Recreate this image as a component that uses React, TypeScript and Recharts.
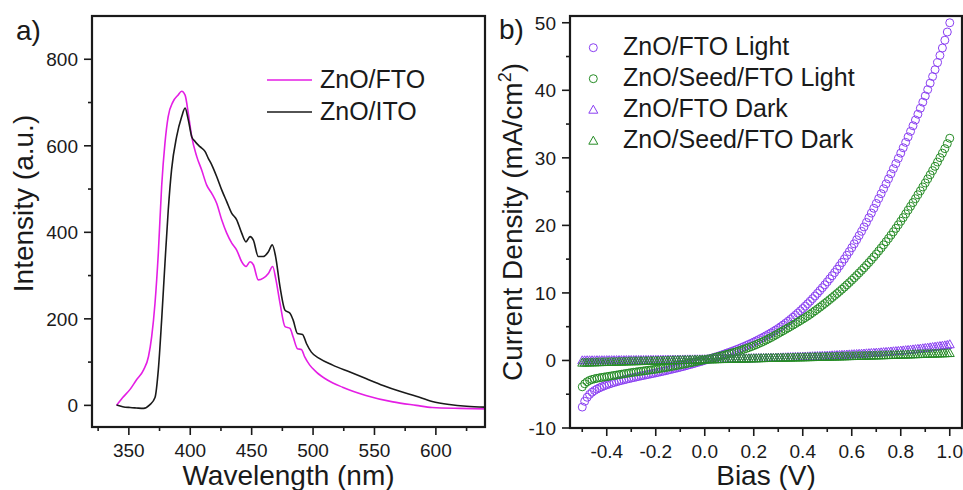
import React from 'react';
import { LineChart, Line, ScatterChart, Scatter, XAxis, YAxis, Legend } from 'recharts';

const FONT = '"Liberation Sans", Arial, Helvetica, sans-serif';
const MAGENTA = '#e41ee4';
const PURPLE = '#8a3ff2';
const GREEN = '#268c26';
const INK = '#1a1a1a';

// ---- panel a: PL spectra ----
const ftoWavelength = [
  340, 345, 351, 356, 362, 366, 368.6, 371.3, 374, 376.7, 379.4, 382, 386, 390, 393, 395.8,
  398.4, 401.2, 405.3, 409.3, 413.4, 417.5, 421.5, 425.6, 429.7, 433.8, 437.8, 441.9, 445.4,
  448.7, 451.4, 455.4, 459.5, 463.6, 467.1, 469.8, 473.1, 477.2, 481.2, 483.8, 487.3, 490.5,
  493.2, 497.3, 502.7, 512, 524, 543, 565, 584, 597, 620, 640,
];
const ftoIntensity = [
  0, 18, 37, 58, 82, 113, 159, 236, 352, 506, 606, 667, 702, 717, 726, 717,
  675, 621, 575, 544, 509, 490, 467, 429, 398, 375, 359, 332, 321,
  332, 325, 290, 294, 305, 321, 290, 236, 182, 178, 158, 131, 129,
  112, 93, 77, 58, 42, 23, 8, 0, -5, -7, -8,
];
const itoWavelength = [
  340, 345, 351, 356, 362, 367, 371.3, 374, 376.7, 379.4, 382.1, 384.8, 388.9, 393, 395.8,
  398.4, 401.2, 403.9, 407.9, 412, 414.7, 417.5, 421.5, 425.6, 429.7, 433.8, 437.8, 441.9,
  445.4, 448.7, 451.4, 455.4, 459.5, 463.6, 466.8, 469.5, 473.1, 477.2, 481.2, 483.8, 487.3,
  491.4, 494.6, 498.6, 505.4, 516, 530, 543, 557, 570, 584, 597, 611, 625, 640,
];
const itoIntensity = [
  1, -3, -5, -6, -7, 1, 18, 82, 197, 328, 452, 545, 621, 667, 687,
  660, 621, 610, 598, 587, 571, 556, 529, 498, 471, 444, 429, 398,
  378, 390, 382, 344, 344, 355, 371, 344, 274, 220, 213, 197, 166,
  164, 143, 123, 108, 93, 77, 62, 46, 33, 21, 9, 2, -2, -4,
];
const wlMajor = [350, 400, 450, 500, 550, 600];
const wlMinor = [325, 375, 425, 475, 525, 575, 625];
const intMajor = [0, 200, 400, 600, 800];
const intMinor = [100, 300, 500, 700];

// ---- panel b: J-V curves ----
const bias = [
  -0.5, -0.49, -0.48, -0.47, -0.46, -0.45, -0.44, -0.43, -0.42, -0.41,
  -0.4, -0.39, -0.38, -0.37, -0.36, -0.35, -0.34, -0.33, -0.32, -0.31,
  -0.3, -0.29, -0.28, -0.27, -0.26, -0.25, -0.24, -0.23, -0.22, -0.21,
  -0.2, -0.19, -0.18, -0.17, -0.16, -0.15, -0.14, -0.13, -0.12, -0.11,
  -0.1, -0.09, -0.08, -0.07, -0.06, -0.05, -0.04, -0.03, -0.02, -0.01,
  0, 0.01, 0.02, 0.03, 0.04, 0.05, 0.06, 0.07, 0.08, 0.09,
  0.1, 0.11, 0.12, 0.13, 0.14, 0.15, 0.16, 0.17, 0.18, 0.19,
  0.2, 0.21, 0.22, 0.23, 0.24, 0.25, 0.26, 0.27, 0.28, 0.29,
  0.3, 0.31, 0.32, 0.33, 0.34, 0.35, 0.36, 0.37, 0.38, 0.39,
  0.4, 0.41, 0.42, 0.43, 0.44, 0.45, 0.46, 0.47, 0.48, 0.49,
  0.5, 0.51, 0.52, 0.53, 0.54, 0.55, 0.56, 0.57, 0.58, 0.59,
  0.6, 0.61, 0.62, 0.63, 0.64, 0.65, 0.66, 0.67, 0.68, 0.69,
  0.7, 0.71, 0.72, 0.73, 0.74, 0.75, 0.76, 0.77, 0.78, 0.79,
  0.8, 0.81, 0.82, 0.83, 0.84, 0.85, 0.86, 0.87, 0.88, 0.89,
  0.9, 0.91, 0.92, 0.93, 0.94, 0.95, 0.96, 0.97, 0.98, 0.99,
  1.0,
];
const ftoLight = [
  -6.9, -6.05, -5.45, -5.02, -4.7, -4.45, -4.24, -4.06, -3.9, -3.75,
  -3.61, -3.49, -3.37, -3.26, -3.15, -3.05, -2.96, -2.87, -2.78, -2.69,
  -2.61, -2.53, -2.45, -2.37, -2.29, -2.22, -2.14, -2.07, -1.99, -1.92,
  -1.84, -1.76, -1.68, -1.6, -1.52, -1.43, -1.35, -1.26, -1.18, -1.09,
  -1.0, -0.91, -0.81, -0.71, -0.61, -0.51, -0.41, -0.3, -0.2, -0.09,
  0.02, 0.13, 0.24, 0.35, 0.47, 0.58, 0.7, 0.82, 0.95, 1.08,
  1.21, 1.34, 1.48, 1.62, 1.76, 1.91, 2.06, 2.22, 2.38, 2.55,
  2.72, 2.9, 3.08, 3.27, 3.46, 3.66, 3.86, 4.07, 4.29, 4.51,
  4.74, 4.99, 5.25, 5.52, 5.8, 6.09, 6.39, 6.7, 7.02, 7.35,
  7.69, 8.04, 8.4, 8.77, 9.15, 9.54, 9.94, 10.35, 10.77, 11.2,
  11.64, 12.09, 12.55, 13.02, 13.5, 14.0, 14.51, 15.03, 15.57, 16.12,
  16.69, 17.27, 17.87, 18.49, 19.12, 19.77, 20.44, 21.12, 21.82, 22.53,
  23.25, 23.97, 24.69, 25.42, 26.15, 26.89, 27.64, 28.39, 29.15, 29.92,
  30.7, 31.49, 32.29, 33.1, 33.92, 34.75, 35.6, 36.46, 37.34, 38.24,
  39.16, 40.1, 41.06, 42.04, 43.05, 44.09, 45.16, 46.26, 47.41, 48.63,
  50.0,
];
const seedLight = [
  -3.9, -3.45, -3.15, -2.95, -2.82, -2.72, -2.64, -2.57, -2.51, -2.45,
  -2.4, -2.34, -2.28, -2.22, -2.16, -2.1, -2.04, -1.98, -1.92, -1.86,
  -1.8, -1.75, -1.7, -1.65, -1.6, -1.55, -1.5, -1.45, -1.4, -1.35,
  -1.3, -1.24, -1.18, -1.12, -1.06, -0.99, -0.92, -0.86, -0.79, -0.72,
  -0.65, -0.58, -0.51, -0.43, -0.36, -0.28, -0.21, -0.13, -0.05, 0.02,
  0.1, 0.18, 0.26, 0.34, 0.43, 0.52, 0.61, 0.7, 0.8, 0.9,
  1.0, 1.1, 1.2, 1.31, 1.42, 1.54, 1.66, 1.78, 1.91, 2.05,
  2.19, 2.34, 2.5, 2.66, 2.83, 3.01, 3.19, 3.38, 3.58, 3.79,
  4.0, 4.2, 4.4, 4.61, 4.82, 5.03, 5.24, 5.46, 5.68, 5.9,
  6.12, 6.35, 6.58, 6.83, 7.09, 7.35, 7.61, 7.88, 8.16, 8.44,
  8.72, 9.01, 9.31, 9.61, 9.91, 10.22, 10.54, 10.86, 11.19, 11.53,
  11.88, 12.23, 12.59, 12.96, 13.33, 13.71, 14.1, 14.5, 14.91, 15.33,
  15.76, 16.2, 16.65, 17.11, 17.58, 18.06, 18.55, 19.05, 19.56, 20.08,
  20.61, 21.15, 21.7, 22.26, 22.82, 23.38, 23.95, 24.53, 25.11, 25.69,
  26.28, 26.88, 27.49, 28.11, 28.74, 29.38, 30.03, 30.69, 31.36, 32.1,
  32.9,
];
const ftoDark = [
  0.02, 0.02, 0.03, 0.03, 0.03, 0.03, 0.04, 0.04, 0.04, 0.04,
  0.05, 0.05, 0.05, 0.05, 0.06, 0.06, 0.06, 0.06, 0.07, 0.07,
  0.07, 0.07, 0.08, 0.08, 0.08, 0.08, 0.09, 0.09, 0.1, 0.1,
  0.1, 0.11, 0.11, 0.12, 0.12, 0.12, 0.13, 0.13, 0.14, 0.14,
  0.14, 0.15, 0.15, 0.16, 0.16, 0.16, 0.17, 0.17, 0.17, 0.18,
  0.18, 0.19, 0.2, 0.2, 0.21, 0.22, 0.23, 0.24, 0.24, 0.25,
  0.26, 0.27, 0.28, 0.28, 0.29, 0.3, 0.31, 0.32, 0.32, 0.33,
  0.34, 0.35, 0.36, 0.36, 0.37, 0.38, 0.39, 0.4, 0.41, 0.42,
  0.44, 0.45, 0.46, 0.47, 0.49, 0.5, 0.51, 0.53, 0.54, 0.55,
  0.57, 0.58, 0.6, 0.61, 0.63, 0.64, 0.66, 0.67, 0.69, 0.7,
  0.72, 0.74, 0.76, 0.78, 0.8, 0.82, 0.84, 0.86, 0.88, 0.9,
  0.92, 0.94, 0.96, 0.99, 1.01, 1.03, 1.06, 1.08, 1.11, 1.13,
  1.16, 1.18, 1.21, 1.24, 1.27, 1.3, 1.33, 1.36, 1.39, 1.42,
  1.46, 1.49, 1.53, 1.56, 1.6, 1.64, 1.68, 1.72, 1.76, 1.8,
  1.85, 1.89, 1.94, 1.99, 2.04, 2.09, 2.14, 2.19, 2.24, 2.3,
  2.4,
];
const seedDark = [
  -0.32, -0.31, -0.3, -0.29, -0.28, -0.27, -0.26, -0.25, -0.24, -0.23,
  -0.22, -0.21, -0.2, -0.19, -0.18, -0.17, -0.16, -0.15, -0.14, -0.13,
  -0.12, -0.11, -0.11, -0.1, -0.09, -0.08, -0.07, -0.06, -0.05, -0.04,
  -0.03, -0.03, -0.02, -0.01, 0.0, 0.01, 0.02, 0.03, 0.04, 0.05,
  0.06, 0.06, 0.07, 0.08, 0.09, 0.1, 0.11, 0.12, 0.13, 0.14,
  0.15, 0.16, 0.17, 0.17, 0.18, 0.19, 0.2, 0.21, 0.21, 0.22,
  0.23, 0.24, 0.25, 0.26, 0.26, 0.27, 0.28, 0.29, 0.3, 0.31,
  0.32, 0.32, 0.33, 0.34, 0.35, 0.36, 0.37, 0.37, 0.38, 0.39,
  0.4, 0.4, 0.41, 0.42, 0.43, 0.43, 0.44, 0.45, 0.46, 0.46,
  0.47, 0.48, 0.49, 0.49, 0.5, 0.51, 0.52, 0.52, 0.53, 0.54,
  0.55, 0.56, 0.57, 0.58, 0.59, 0.6, 0.61, 0.62, 0.63, 0.64,
  0.65, 0.66, 0.67, 0.68, 0.69, 0.7, 0.71, 0.72, 0.73, 0.74,
  0.75, 0.76, 0.77, 0.78, 0.79, 0.8, 0.81, 0.82, 0.83, 0.85,
  0.86, 0.87, 0.88, 0.89, 0.9, 0.92, 0.93, 0.94, 0.95, 0.96,
  0.98, 0.99, 1.0, 1.01, 1.02, 1.04, 1.05, 1.06, 1.07, 1.09,
  1.1,
];
const biasMajor = [-0.4, -0.2, 0, 0.2, 0.4, 0.6, 0.8, 1.0];
const biasMinor = [-0.5, -0.3, -0.1, 0.1, 0.3, 0.5, 0.7, 0.9];
const jMajor = [-10, 0, 10, 20, 30, 40, 50];
const jMinor = [-5, 5, 15, 25, 35, 45];

const plSeries = [
  { name: 'ZnO/FTO', color: MAGENTA, w: ftoWavelength, v: ftoIntensity },
  { name: 'ZnO/ITO', color: INK, w: itoWavelength, v: itoIntensity },
];
const jvSeries = [
  { name: 'ZnO/FTO Light', color: PURPLE, marker: 'circle', j: ftoLight },
  { name: 'ZnO/Seed/FTO Light', color: GREEN, marker: 'circle', j: seedLight },
  { name: 'ZnO/FTO Dark', color: PURPLE, marker: 'triangle', j: ftoDark },
  { name: 'ZnO/Seed/FTO Dark', color: GREEN, marker: 'triangle', j: seedDark },
];

// layout of the two charts
const H = 490, TOP = 16;
const PL = { left: 0, w: 487, axisW: 92, right: 2, axisH: 63 };
const JV = { left: 482, w: 481, axisW: 88, right: 1, axisH: 62 };
const plotBox = (c: typeof PL) => ({
  x: c.left + c.axisW,
  y: TOP,
  w: c.w - c.axisW - c.right,
  h: H - TOP - c.axisH,
});

const near = (list: number[], v: number) => list.some((m) => Math.abs(m - v) < 1e-9);

// tick with its own line so majors and minors get different lengths
const makeTick = (side: 'bottom' | 'left', majors: number[], fmt: (v: number) => string) => (props: any) => {
  const { x, y, payload } = props;
  const major = near(majors, payload.value);
  const len = major ? 8 : 4;
  if (side === 'bottom') {
    return (
      <g>
        <line x1={x} x2={x} y1={y} y2={y + len} stroke={INK} strokeWidth={1.6} />
        {major && (
          <text x={x} y={y + 30} textAnchor="middle" fontSize={19} fontFamily={FONT} fill={INK}>
            {fmt(payload.value)}
          </text>
        )}
      </g>
    );
  }
  return (
    <g>
      <line x1={x - len} x2={x} y1={y} y2={y} stroke={INK} strokeWidth={1.6} />
      {major && (
        <text x={x - 14} y={y} dy="0.36em" textAnchor="end" fontSize={19} fontFamily={FONT} fill={INK}>
          {fmt(payload.value)}
        </text>
      )}
    </g>
  );
};

const ring = (color: string) => (p: any) => (
  <circle cx={p.cx} cy={p.cy} r={4} fill="none" stroke={color} strokeWidth={1} />
);
const tri = (color: string) => (p: any) => (
  <polygon
    points={`${p.cx},${p.cy - 4.5} ${p.cx - 4.5},${p.cy + 3.5} ${p.cx + 4.5},${p.cy + 3.5}`}
    fill="none"
    stroke={color}
    strokeWidth={1}
  />
);

const PLLegend = () => (
  <svg width={200} height={62} style={{ display: 'block', overflow: 'visible' }}>
    {plSeries.map((s, i) => (
      <g key={s.name}>
        <line x1={0} x2={45} y1={12 + i * 32} y2={12 + i * 32} stroke={s.color} strokeWidth={1.6} />
        <text x={53} y={19.5 + i * 32} fontSize={25} fontFamily={FONT} fill={INK}>
          {s.name}
        </text>
      </g>
    ))}
  </svg>
);

const JVLegend = () => (
  <svg width={340} height={130} style={{ display: 'block', overflow: 'visible' }}>
    {jvSeries.map((s, i) => {
      const cy = 17.7 + i * 31;
      return (
        <g key={s.name}>
          {s.marker === 'circle'
            ? ring(s.color)({ cx: 8.3, cy })
            : tri(s.color)({ cx: 8.3, cy })}
          <text x={38} y={cy + 7.5} fontSize={25} fontFamily={FONT} fill={INK}>
            {s.name}
          </text>
        </g>
      );
    })}
  </svg>
);

const makeYTitle = (shift: number, xOff: number, body: React.ReactNode) => (props: any) => {
  const vb = props.viewBox;
  const cx = vb.x + xOff;
  const cy = vb.y + vb.height / 2 + shift;
  return (
    <text x={cx} y={cy} transform={`rotate(-90 ${cx} ${cy})`} textAnchor="middle" fontSize={28} fontFamily={FONT} fill={INK}>
      {body}
    </text>
  );
};

const IntensityTitle = makeYTitle(-18, 33, 'Intensity (a.u.)');
const CurrentTitle = makeYTitle(
  0,
  40,
  <>
    Current Density (mA/cm
    <tspan dy={-11} fontSize={18}>2</tspan>
    <tspan dy={11}>)</tspan>
  </>,
);

const PLChart = () => (
  <LineChart width={PL.w} height={H} margin={{ top: TOP, right: PL.right, bottom: 0, left: 0 }}>
    <XAxis
      dataKey="w"
      type="number"
      domain={[320, 640]}
      ticks={[...wlMajor, ...wlMinor].sort((a, b) => a - b)}
      interval={0}
      tickSize={0}
      tickMargin={0}
      tickLine={false}
      tick={makeTick('bottom', wlMajor, (v) => String(v))}
      axisLine={false}
      height={PL.axisH}
      allowDataOverflow
      label={{ value: 'Wavelength (nm)', position: 'insideBottom', offset: 5, fontSize: 28, fill: INK, fontFamily: FONT }}
    />
    <YAxis
      type="number"
      domain={[-50, 900]}
      ticks={[...intMajor, ...intMinor].sort((a, b) => a - b)}
      interval={0}
      tickSize={0}
      tickMargin={0}
      tickLine={false}
      tick={makeTick('left', intMajor, (v) => String(v))}
      axisLine={false}
      width={PL.axisW}
      allowDataOverflow
      label={{ content: IntensityTitle }}
    />
    {plSeries.map((s) => (
      <Line
        key={s.name}
        data={s.w.map((w, i) => ({ w, v: s.v[i] }))}
        dataKey="v"
        name={s.name}
        type="monotone"
        stroke={s.color}
        strokeWidth={1.6}
        dot={false}
        isAnimationActive={false}
      />
    ))}
    <Legend
      verticalAlign="middle"
      align="center"
      layout="horizontal"
      content={PLLegend}
      wrapperStyle={{ left: 267, top: 68, width: 200, height: 62 }}
    />
  </LineChart>
);

const JVChart = () => (
  <ScatterChart width={JV.w} height={H} margin={{ top: TOP, right: JV.right, bottom: 0, left: 0 }}>
    <XAxis
      dataKey="v"
      type="number"
      domain={[-0.55, 1.05]}
      ticks={[...biasMajor, ...biasMinor].sort((a, b) => a - b)}
      interval={0}
      tickSize={0}
      tickMargin={0}
      tickLine={false}
      tick={makeTick('bottom', biasMajor, (v) => v.toFixed(1))}
      axisLine={false}
      height={JV.axisH}
      allowDataOverflow
      label={{ value: 'Bias (V)', position: 'insideBottom', offset: 5, fontSize: 28, fill: INK, fontFamily: FONT }}
    />
    <YAxis
      dataKey="j"
      type="number"
      domain={[-10, 51]}
      ticks={[...jMajor, ...jMinor].sort((a, b) => a - b)}
      interval={0}
      tickSize={0}
      tickMargin={0}
      tickLine={false}
      tick={makeTick('left', jMajor, (v) => String(v))}
      axisLine={false}
      width={JV.axisW}
      allowDataOverflow
      label={{ content: CurrentTitle }}
    />
    {jvSeries.map((s) => (
      <Scatter
        key={s.name}
        name={s.name}
        data={bias.map((v, i) => ({ v, j: s.j[i] }))}
        shape={s.marker === 'circle' ? ring(s.color) : tri(s.color)}
        isAnimationActive={false}
      />
    ))}
    <Legend
      verticalAlign="middle"
      align="center"
      layout="horizontal"
      content={JVLegend}
      wrapperStyle={{ left: 103, top: 30, width: 340, height: 130 }}
    />
  </ScatterChart>
);

export default function App() {
  const boxes = [plotBox(PL), plotBox(JV)];
  return (
    <div style={{ position: 'absolute', left: 0, top: 0, width: 963, height: H, background: '#fff', overflow: 'hidden', fontFamily: FONT }}>
      <div style={{ position: 'absolute', left: PL.left, top: 0 }}>
        <PLChart />
      </div>
      <div style={{ position: 'absolute', left: JV.left, top: 0 }}>
        <JVChart />
      </div>
      {/* panel letters and the box round each plot */}
      <svg width={963} height={H} style={{ position: 'absolute', left: 0, top: 0, pointerEvents: 'none' }}>
        {boxes.map((b, i) => (
          <rect key={i} x={b.x} y={b.y} width={b.w} height={b.h} fill="none" stroke={INK} strokeWidth={2.2} />
        ))}
        <text x={16} y={40} fontSize={28} fontFamily={FONT} fill={INK}>a)</text>
        <text x={499} y={39} fontSize={28} fontFamily={FONT} fill={INK}>b)</text>
      </svg>
    </div>
  );
}
